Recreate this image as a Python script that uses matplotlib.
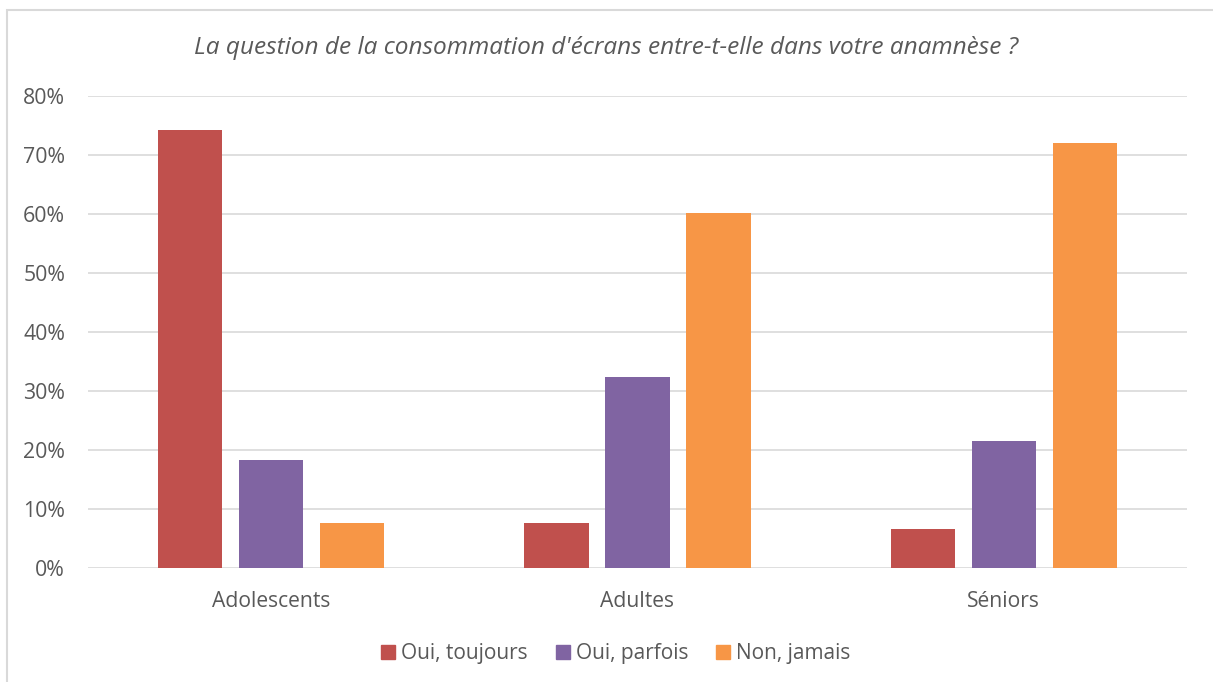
import numpy as np
import matplotlib.pyplot as plt
import matplotlib.patches as mpatches

categories = ['Adolescents', 'Adultes', 'Séniors']
series_names = ['Oui, toujours', 'Oui, parfois', 'Non, jamais']
toujours = [74.2, 7.6, 6.6]
parfois = [18.3, 32.3, 21.5]
jamais = [7.6, 60.2, 72.1]
colors = ['#C0504D', '#8064A2', '#F79646']
txt = '#595959'

plt.rcParams['font.family'] = ['Open Sans', 'DejaVu Sans']

fig = plt.figure(figsize=(12.13, 6.82), dpi=100)
ax = fig.add_axes([88/1213, 1-568/682, (1187-88)/1213, (568-96)/682])

x = np.arange(len(categories))
w = 0.175
step = 0.221
for i, vals in enumerate([toujours, parfois, jamais]):
    ax.bar(x + (i-1)*step, vals, width=w, color=colors[i], zorder=3)

ax.set_xlim(-0.5, 2.5)
ax.set_ylim(0, 80)
ax.set_yticks(range(0, 90, 10))
ax.set_yticklabels(['{}%'.format(v) for v in range(0, 90, 10)], fontsize=15.3, color=txt)
ax.set_xticks(x)
ax.set_xticklabels(categories, fontsize=15.2, color=txt)
ax.tick_params(axis='both', length=0)
ax.tick_params(axis='y', pad=16.5)
ax.tick_params(axis='x', pad=16.5)
ax.grid(axis='y', color='#D9D9D9', linewidth=1.2, zorder=0)
for s in ax.spines.values():
    s.set_visible(False)

fig.text(0.5, 1-48/682, "La question de la consommation d'écrans entre-t-elle dans votre anamnèse ?",
         ha='center', va='center', fontsize=17.6, style='italic', color=txt)

handles = [mpatches.Patch(color=colors[i], label=series_names[i]) for i in range(3)]
leg = fig.legend(handles=handles, loc='center', bbox_to_anchor=(616/1213, 1-654/682), ncol=3,
                 frameon=False, fontsize=15, handlelength=0.65, handleheight=0.65,
                 handletextpad=0.3, columnspacing=1.35)
for t in leg.get_texts():
    t.set_color(txt)

fig.patches.append(mpatches.Rectangle((7/1213, -0.05), 1.1, 1-10/682+0.05, transform=fig.transFigure,
                                      fill=False, edgecolor='#D9D9D9', linewidth=1.5))

fig.savefig('out.png', dpi=100)
